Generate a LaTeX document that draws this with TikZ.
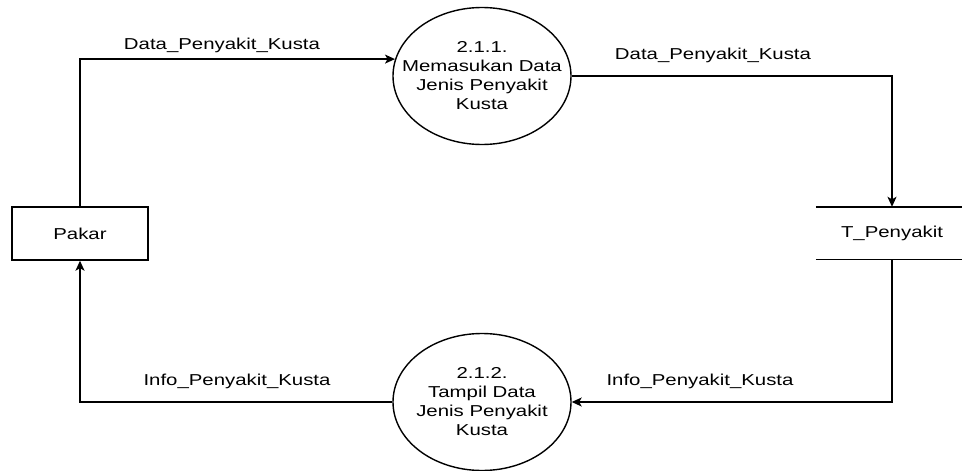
\documentclass[tikz,border=0pt]{standalone}
\usepackage{fontspec}
\newfontfamily\dfdfont[FakeStretch=1.29]{Liberation Sans}
\usetikzlibrary{shapes.geometric,arrows.meta}
\tikzset{
  every node/.style={font=\dfdfont\fontsize{15.8}{19}\selectfont, text=black},
  entity/.style={draw, line width=1.4pt, rectangle, minimum width=136pt, minimum height=53pt, inner sep=0pt},
  process/.style={draw, line width=1.4pt, ellipse, minimum width=178pt, minimum height=137pt, inner sep=0pt},
  ptext/.style={align=center, inner sep=0pt},
  store/.style={rectangle, minimum width=152pt, minimum height=52pt, inner sep=0pt},
  flow/.style={draw, line width=1.4pt, -{Stealth[length=10pt,width=9pt,inset=2.5pt]}},
  flowlabel/.style={inner sep=0pt}
}
\begin{document}
\begin{tikzpicture}[x=1pt, y=-1pt]
  \useasboundingbox (0,0) rectangle (962,471);

  % external entity
  \node[entity] (pakar) at (80,233.5) {Pakar};

  % processes: fixed-size circles with their text set on top
  \node[process] (p1) at (482,76) {};
  \node[ptext] (p1t) at (p1.center) {2.1.1.\\Memasukan Data\\Jenis Penyakit\\Kusta};
  \node[process] (p2) at (482,402) {};
  \node[ptext] (p2t) at (p2.center) {2.1.2.\\Tampil Data\\Jenis Penyakit\\Kusta};

  % data store
  \node[store] (tp) at (892,233) {T\_Penyakit};
  \draw[line width=1.4pt] (tp.north west) -- ++(160,0);
  \draw[line width=1.4pt] (tp.south west) -- ++(160,0);

  % data flows
  \draw[flow] (pakar.north) |- (p1.169.5);
  \draw[flow] (p1.east) -| (tp.north);
  \draw[flow] (tp.south) |- (p2.east);
  \draw[flow] (p2.west) -| (pakar.south);

  % flow labels
  \node[flowlabel] (l1) at (222,45) {Data\_Penyakit\_Kusta};
  \node[flowlabel] (l2) at (713,55) {Data\_Penyakit\_Kusta};
  \node[flowlabel] (l3) at (700,381) {Info\_Penyakit\_Kusta};
  \node[flowlabel] (l4) at (237,381) {Info\_Penyakit\_Kusta};
\end{tikzpicture}
\end{document}
